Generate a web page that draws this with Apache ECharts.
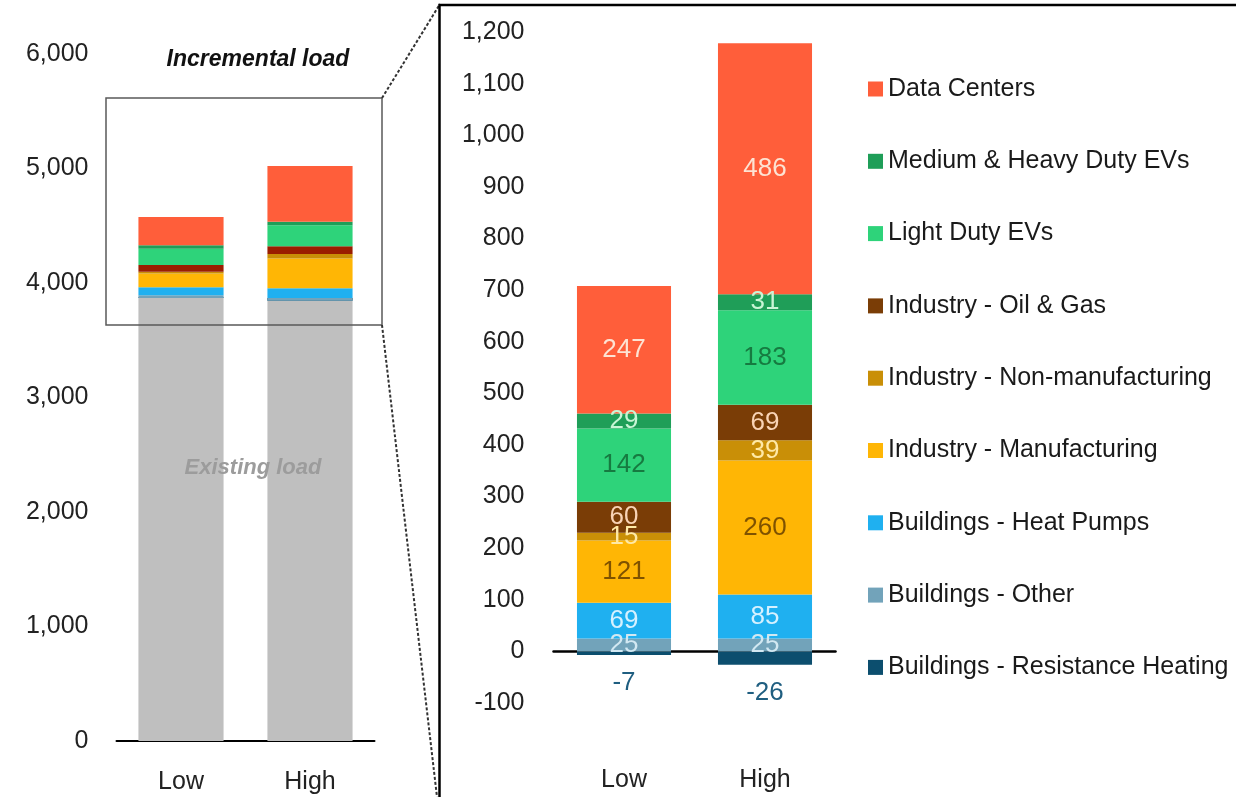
<!DOCTYPE html>
<html>
<head>
<meta charset="utf-8">
<script src="https://cdn.jsdelivr.net/npm/echarts@6/dist/echarts.min.js"></script>
<style>
html,body{margin:0;padding:0;background:#fff;}
#main{width:1236px;height:797px;}
</style>
</head>
<body>
<div id="main"></div>
<script>
// ---- data ----
const categories = ['Low', 'High'];
const existingLoad = [3875, 3870];
const dataCenters = [247, 486];
const mediumHeavyEVs = [29, 31];
const lightDutyEVs = [142, 183];
const industryOilGas = [60, 69];
const industryNonManufacturing = [15, 39];
const industryManufacturing = [121, 260];
const buildingsHeatPumps = [69, 85];
const buildingsOther = [25, 25];
const buildingsResistance = [-7, -26];

const leftTicks = { min: 0, max: 6000, interval: 1000 };
const rightTicks = { min: -100, max: 1200, interval: 100 };

// stacking order bottom -> top
const segNames = [
  'Buildings - Resistance Heating',
  'Buildings - Other',
  'Buildings - Heat Pumps',
  'Industry - Manufacturing',
  'Industry - Non-manufacturing',
  'Industry - Oil & Gas',
  'Light Duty EVs',
  'Medium & Heavy Duty EVs',
  'Data Centers'
];
const segValues = [
  buildingsResistance, buildingsOther, buildingsHeatPumps, industryManufacturing,
  industryNonManufacturing, industryOilGas, lightDutyEVs, mediumHeavyEVs, dataCenters
];

// ---- styles ----
const FONT = '"Liberation Sans", Arial, sans-serif';
const segColors = ['#0C4E6E', '#72A3BA', '#1FB0F0', '#FFB605', '#C98F07', '#7A3D06', '#2ED37A', '#1F9E58', '#FF5E3A'];
const leftSegColors = ['#0C4E6E', '#72A3BA', '#1FB0F0', '#FFB605', '#C98F07', '#9A1E00', '#2ED37A', '#1F9E58', '#FF5E3A'];
const labelColors = ['#1F5E80', '#D2E8F2', '#D6F1FF', '#7F5200', '#FFE9A6', '#F9D3B5', '#167A40', '#C9F5D5', '#FDE3D3'];

const fmt = v => String(v).replace(/\B(?=(\d{3})+(?!\d))/g, ',');

const series = [];
// left chart
series.push({
  name: 'Existing load', type: 'bar', xAxisIndex: 0, yAxisIndex: 0,
  stack: 'L', stackStrategy: 'all', barWidth: '66%',
  itemStyle: { color: '#BFBFBF' }, data: existingLoad, silent: true
});
segNames.forEach((n, i) => {
  series.push({
    name: n, type: 'bar', xAxisIndex: 0, yAxisIndex: 0,
    stack: 'L', stackStrategy: 'all', barWidth: '66%',
    itemStyle: { color: leftSegColors[i] }, data: segValues[i], silent: true
  });
});
// right chart
segNames.forEach((n, i) => {
  const isNeg = i === 0;
  series.push({
    name: n, type: 'bar', xAxisIndex: 1, yAxisIndex: 1,
    stack: 'R', barWidth: '66.7%',
    itemStyle: { color: segColors[i] }, data: segValues[i],
    label: {
      show: true,
      position: isNeg ? 'bottom' : 'inside',
      distance: isNeg ? 15 : 5,
      color: labelColors[i],
      fontFamily: FONT, fontSize: 26
    }
  });
});

const chart = echarts.init(document.getElementById('main'), null, { renderer: 'canvas' });
chart.setOption({
  animation: false,
  backgroundColor: '#fff',
  grid: [
    { left: 116.5, width: 258, top: 54, height: 687 },
    { left: 553.5, width: 282, top: 32, height: 671 }
  ],
  xAxis: [
    { gridIndex: 0, type: 'category', data: categories, position: 'bottom',
      axisLine: { lineStyle: { color: '#000', width: 2 } }, axisTick: { show: false },
      axisLabel: { fontFamily: FONT, fontSize: 25, color: '#222', margin: 29 } },
    { gridIndex: 1, type: 'category', data: categories, position: 'bottom',
      axisLine: { onZero: true, lineStyle: { color: '#000', width: 2.5 } }, axisTick: { show: false },
      axisLabel: { show: false } },
    { gridIndex: 1, type: 'category', data: categories, position: 'bottom',
      axisLine: { show: false, onZero: false }, axisTick: { show: false },
      axisLabel: { fontFamily: FONT, fontSize: 25, color: '#222', margin: 65 } }
  ],
  yAxis: [
    { gridIndex: 0, type: 'value', min: leftTicks.min, max: leftTicks.max, interval: leftTicks.interval,
      axisLine: { show: false }, axisTick: { show: false }, splitLine: { show: false },
      axisLabel: { fontFamily: FONT, fontSize: 25, color: '#222', margin: 28, formatter: fmt } },
    { gridIndex: 1, type: 'value', min: rightTicks.min, max: rightTicks.max, interval: rightTicks.interval,
      axisLine: { show: false }, axisTick: { show: false }, splitLine: { show: false },
      axisLabel: { fontFamily: FONT, fontSize: 25, color: '#222', margin: 29, formatter: fmt } }
  ],
  legend: {
    orient: 'vertical', left: 863, top: 69,
    itemWidth: 15, itemHeight: 15, itemGap: 42.3, icon: 'rect',
    selectedMode: false,
    textStyle: { fontFamily: FONT, fontSize: 25, color: '#1a1a1a', lineHeight: 30 },
    data: segNames.slice().reverse().map(n => ({ name: n, itemStyle: { color: segColors[segNames.indexOf(n)] } }))
  },
  graphic: [
    { type: 'rect', shape: { x: 106, y: 98, width: 276, height: 227 }, style: { fill: 'none', stroke: '#5a5a5a', lineWidth: 1.5 }, z: 10 },
    { type: 'line', shape: { x1: 382, y1: 98, x2: 440, y2: 4 }, style: { stroke: '#333', lineWidth: 2, lineDash: [3, 2] }, z: 10 },
    { type: 'line', shape: { x1: 382, y1: 325, x2: 437, y2: 797 }, style: { stroke: '#333', lineWidth: 2, lineDash: [3, 2] }, z: 10 },
    { type: 'rect', shape: { x: 439.5, y: 5, width: 900, height: 900 }, style: { fill: 'none', stroke: '#000', lineWidth: 2.5 }, z: 10 },
    { type: 'text', x: 258, y: 60, style: { text: 'Incremental load', font: 'italic bold 23px ' + FONT, fill: '#111', align: 'center', verticalAlign: 'middle' }, z: 10 },
    { type: 'text', x: 253, y: 468, style: { text: 'Existing load', font: 'italic bold 22px ' + FONT, fill: '#9c9c9c', align: 'center', verticalAlign: 'middle' }, z: 10 }
  ],
  series: series
});
</script>
</body>
</html>
